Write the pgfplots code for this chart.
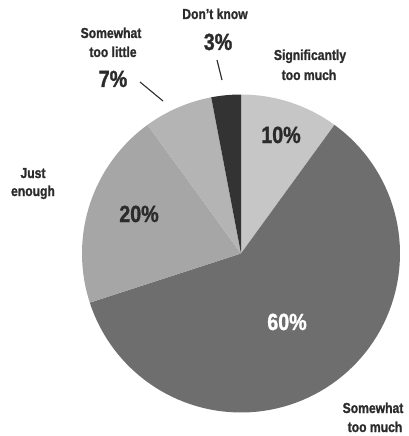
\documentclass[border=0pt]{standalone}
\usepackage{fontspec}
\setmainfont{Liberation Sans}[FakeStretch=0.84, BoldFeatures={FakeBold=1.2}]
\usepackage{pgfplots}
\pgfplotsset{compat=1.18}

\definecolor{sigmuch}{HTML}{C6C6C6}
\definecolor{somemuch}{HTML}{6E6E6E}
\definecolor{justenough}{HTML}{A6A6A6}
\definecolor{somelittle}{HTML}{B4B4B4}
\definecolor{dontknow}{HTML}{333333}
\definecolor{ink}{HTML}{2B2B2B}

% pie centre and radius (in the page's own units)
\newcommand\cx{241}
\newcommand\cy{253.5}
\newcommand\rr{159}

% \slice{share before}{share}{colour}: one sector, clockwise from 12 o'clock
\newcommand\slice[3]{%
  \pgfmathsetmacro\slA{90-3.6*(#1+#2)}%
  \pgfmathsetmacro\slB{90-3.6*(#1)}%
  \addplot[fill=#3, draw=none, domain=\slA:\slB, samples=90, variable=\t]
    ({\cx+\rr*cos(\t)},{\cy-\rr*sin(\t)}) -- (axis cs:\cx,\cy) -- cycle;
}

\tikzset{
  cat/.style={anchor=base, text=ink, font=\fontsize{14.5}{17}\selectfont\bfseries},
  pct/.style={anchor=base, text=ink, font=\fontsize{23.5}{26}\selectfont\bfseries},
}

\begin{document}
\begin{tikzpicture}
\begin{axis}[
  scale only axis, width=409bp, height=436bp,
  xmin=0, xmax=409, ymin=0, ymax=436, y dir=reverse,
  hide axis, clip=false]
\path (axis cs:0,0) rectangle (axis cs:409,436);

\slice{0}{10}{sigmuch}
\slice{10}{60}{somemuch}
\slice{70}{20}{justenough}
\slice{90}{7}{somelittle}
\slice{97}{3}{dontknow}

% value labels
\node[pct] at (axis cs:281,143) {10\%};
\node[pct, text=white] at (axis cs:287,330) {60\%};
\node[pct] at (axis cs:139,222) {20\%};
\node[pct] at (axis cs:113,87) {7\%};
\node[pct] at (axis cs:218,50) {3\%};

% category labels
\node[cat] at (axis cs:215,19) {Don't know};
\node[cat] at (axis cs:111,38) {Somewhat};
\node[cat] at (axis cs:113,57) {too little};
\node[cat] at (axis cs:310,60) {Significantly};
\node[cat] at (axis cs:309,80) {too much};
\node[cat] at (axis cs:33,178) {Just};
\node[cat] at (axis cs:33,196) {enough};
\node[cat] at (axis cs:373,413) {Somewhat};
\node[cat] at (axis cs:375,432) {too much};

% leader lines
\draw[ink, line width=1.1bp] (axis cs:140,82) -- (axis cs:163,101);
\draw[ink, line width=1.1bp] (axis cs:217,60) -- (axis cs:222,80);
\end{axis}
\end{tikzpicture}
\end{document}
